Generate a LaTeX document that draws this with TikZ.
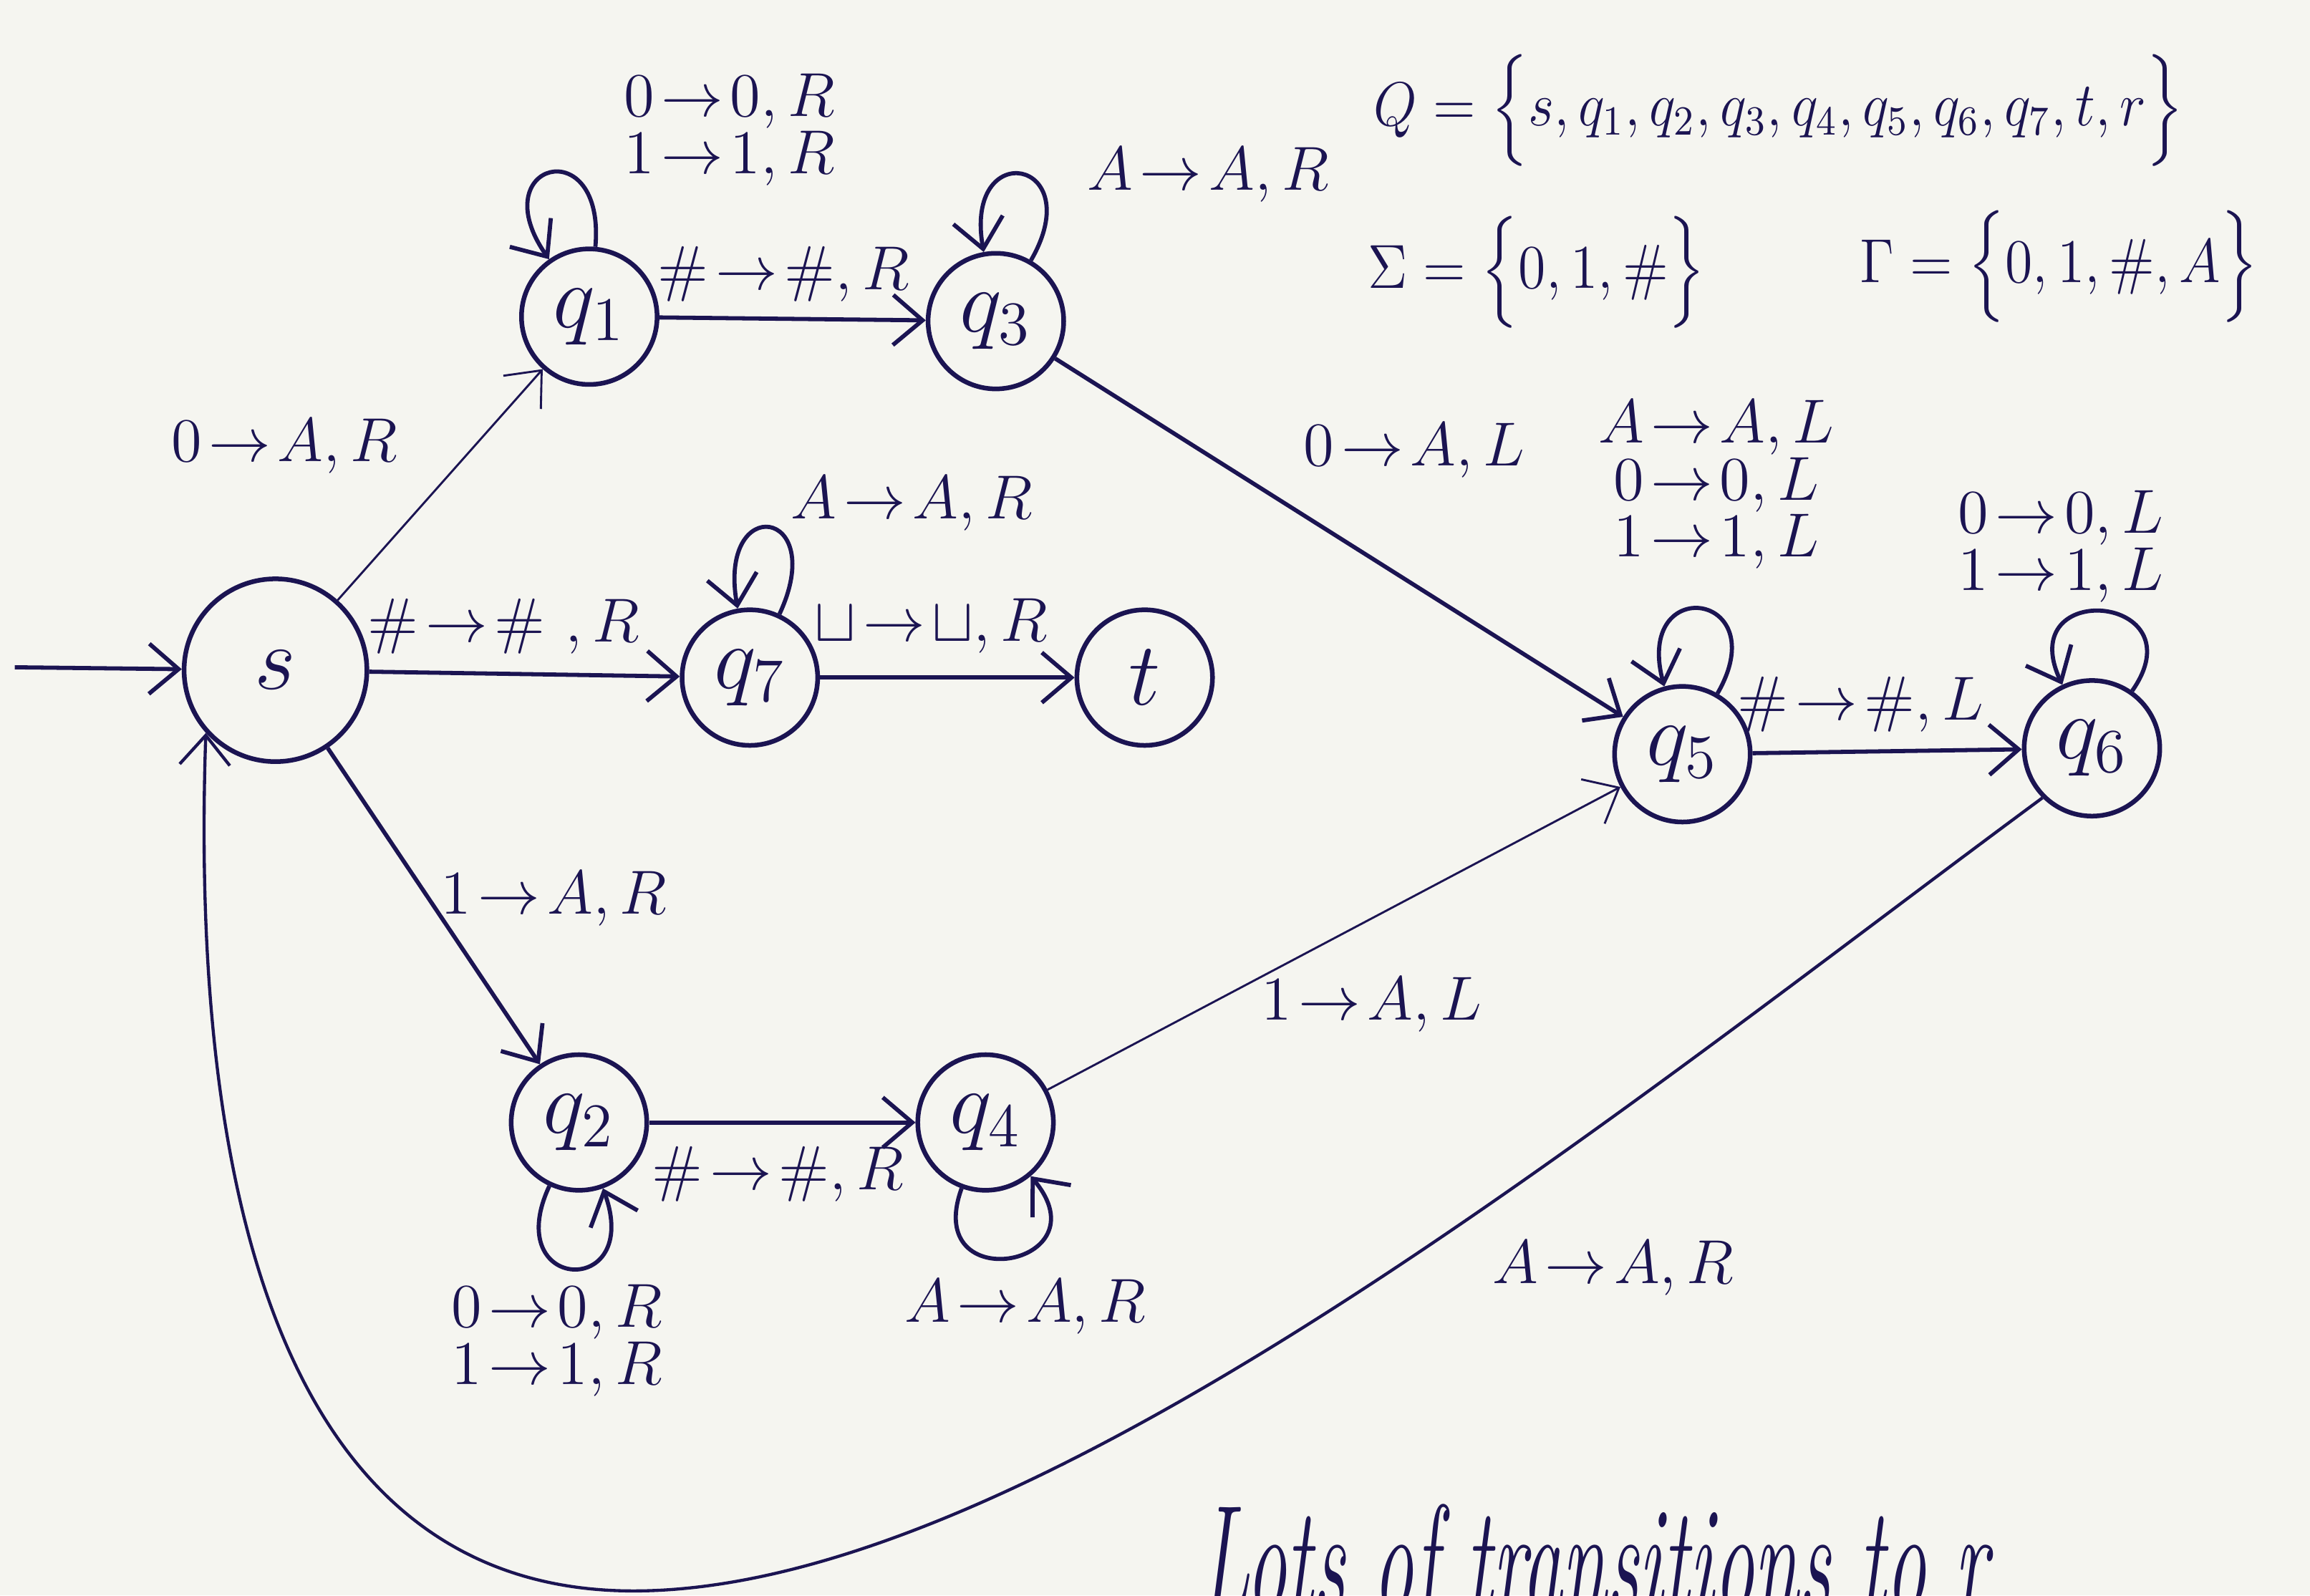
\documentclass[tikz,border=0pt]{standalone}
\usepackage{xcolor}
\usepackage{tikz}
\usepackage{amsmath}
\usepackage{graphicx}
\usetikzlibrary{arrows.meta,positioning,calc}
\definecolor{tmink}{HTML}{1B1452}
\definecolor{tmpaper}{HTML}{F5F5F0}
\tikzstyle{state} = [circle, draw=tmink, line width=0.9pt, minimum size=9.2mm, inner sep=0pt, font=\LARGE, text=tmink]
\tikzstyle{trans} = [-{Straight Barb[length=2mm,width=3.4mm]}, line width=0.8pt, tmink]
\tikzstyle{thintrans} = [trans, line width=0.4pt]
\tikzstyle{selfloop} = [trans, min distance=8mm]
\tikzstyle{lab} = [font=\large, text=tmink, align=center, inner sep=1pt]
\tikzstyle{setlab} = [font=\large, text=tmink, inner sep=0pt]
\newcommand{\tr}{\mathrel{\!\to\!}}

\begin{document}
\begin{tikzpicture}[x=0.01cm, y=0.01cm]
\fill[tmpaper] (0,0) rectangle (1568,1083);
\useasboundingbox (0,0) rectangle (1568,1083);
\clip (0,0) rectangle (1568,1083);

% states
\node[state, minimum size=12.4mm] (s) at (187,628) {$s$};
\foreach \n/\x/\y/\lab in {q1/400/868/q_1, q3/676/865/q_3, q7/509/623/q_7, t/777/623/t, q2/393/321/q_2, q4/669/321/q_4, q5/1142/571/q_5, q6/1420/575/q_6}{
  \node[state] (\n) at (\x,\y) {$\lab$};
}

% transitions
\coordinate (init) at (10,630);
\draw[trans] (init) -- (s);
\draw[thintrans] (s) -- (q1);
\draw[trans] (s) -- (q7);
\draw[trans] (s) -- (q2);
\draw[trans] (q1) -- (q3);
\draw[trans] (q7) -- (t);
\draw[trans] (q2) -- (q4);
\draw[trans] (q3) -- (q5);
\draw[thintrans] (q4) -- (q5);
\draw[trans] (q5) -- (q6);
\coordinate (bend) at (430,3);
\draw[trans, line width=0.6pt] (q6.225) .. controls (1100,330) and (700,3) .. (bend) .. controls (180,3) and (130,300) .. (s.222);

% loops
\draw[selfloop] (q1) to[out=85, in=125] (q1);
\draw[selfloop] (q3) to[out=60, in=100] (q3);
\draw[selfloop] (q7) to[out=65, in=100] (q7);
\draw[selfloop] (q5) to[out=60, in=105] (q5);
\draw[selfloop] (q6) to[out=55, in=115] (q6);
\draw[selfloop] (q2) to[out=245, in=290] (q2);
\draw[selfloop] (q4) to[out=250, in=310] (q4);

% labels
\node[lab] (l-s-q1) at (193,780) {$0\tr A,R$};
\node[lab] (l-s-q7) at (342,658) {$\#\tr\#\ ,R$};
\node[lab] (l-s-q2) at (376,473) {$1\tr A,R$};
\node[lab] (l-q1-q3) at (532,897) {$\#\tr\#,R$};
\node[lab] (l-q1) at (495,995) {$0\tr 0,R$\\[-3pt]$1\tr 1,R$};
\node[lab] (l-q3) at (820,964) {$A\tr A,R$};
\node[lab] (l-q7) at (619,741) {$A\tr A,R$};
\node[lab] (l-q7-t) at (632,658) {$\sqcup\tr\sqcup,R$};
\node[lab] (l-q2-q4) at (528,286) {$\#\tr\#,R$};
\node[lab] (l-q2) at (378,173) {$0\tr 0,R$\\[-3pt]$1\tr 1,R$};
\node[lab] (l-q4) at (696,196) {$A\tr A,R$};
\node[lab] (l-q3-q5) at (960,777) {$0\tr A,L$};
\node[lab] (l-q4-q5) at (931,401) {$1\tr A,L$};
\node[lab] (l-q5) at (1165,754) {$A\tr A,L$\\[-3pt]$0\tr 0,L$\\[-3pt]$1\tr 1,L$};
\node[lab] (l-q5-q6) at (1263,605) {$\#\tr\#,L$};
\node[lab] (l-q6) at (1399,712) {$0\tr 0,L$\\[-3pt]$1\tr 1,L$};
\node[lab] (l-q6-s) at (1095,222) {$A\tr A,R$};

% sets
\node[setlab, anchor=west] (Qset) at (932,1008) {\scalebox{0.9}[1]{$Q=\Big\{s,q_1,q_2,q_3,q_4,q_5,q_6,q_7,t,r\Big\}$}};
\node[setlab, anchor=west] (Sigmaset) at (928,898) {\scalebox{0.9}[1]{$\Sigma=\Big\{0,1,\#\Big\}$}};
\node[setlab, anchor=west] (Gammaset) at (1262,902) {\scalebox{0.9}[1]{$\Gamma=\Big\{0,1,\#,A\Big\}$}};

% note
\node[lab, anchor=north] (note) at (1082,66) {\scalebox{0.52}[1]{\fontsize{30}{32}\selectfont\itshape Lots of transitions to r}};
\end{tikzpicture}
\end{document}
